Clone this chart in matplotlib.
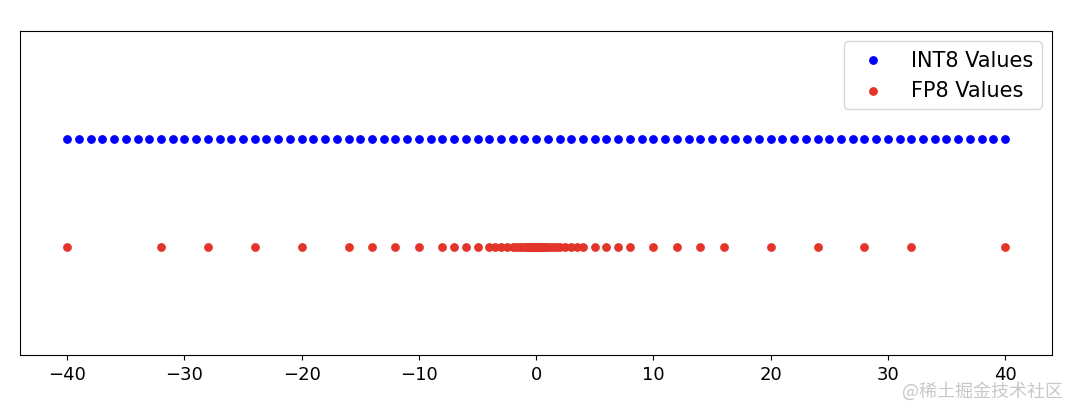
import matplotlib
matplotlib.use("Agg")
import matplotlib.pyplot as plt

# INT8 grid: every integer between -40 and 40
int8_values = [
    -40, -39, -38, -37, -36, -35, -34, -33, -32, -31, -30, -29, -28, -27,
    -26, -25, -24, -23, -22, -21, -20, -19, -18, -17, -16, -15, -14, -13,
    -12, -11, -10, -9, -8, -7, -6, -5, -4, -3, -2, -1, 0, 1, 2, 3, 4, 5,
    6, 7, 8, 9, 10, 11, 12, 13, 14, 15, 16, 17, 18, 19, 20, 21, 22, 23,
    24, 25, 26, 27, 28, 29, 30, 31, 32, 33, 34, 35, 36, 37, 38, 39, 40,
]

# FP8 grid (positive half), dense near zero
fp8_positive = [
    0.0, 0.0625, 0.078125, 0.09375, 0.109375, 0.125, 0.15625, 0.1875, 0.21875,
    0.25, 0.3125, 0.375, 0.4375, 0.5, 0.625, 0.75, 0.875,
    1.0, 1.25, 1.5, 1.75, 2.0, 2.5, 3.0, 3.5, 4.0, 5.0, 6.0, 7.0,
    8.0, 10.0, 12.0, 14.0, 16.0, 20.0, 24.0, 28.0, 32.0, 40.0,
]
fp8_values = sorted([-v for v in fp8_positive if v > 0]) + fp8_positive

fig, ax = plt.subplots(figsize=(10.68, 4.06), dpi=100)
fig.subplots_adjust(left=0.019, right=0.985, top=0.921, bottom=0.123)

ax.scatter(int8_values, [1] * len(int8_values), color="blue", s=28,
           label="INT8 Values", zorder=3)
ax.scatter(fp8_values, [0] * len(fp8_values), color="#e3342a", s=28,
           label="FP8 Values", zorder=3)

ax.set_ylim(-1, 2)
ax.set_xlim(-44, 44)
ax.set_yticks([])
ax.tick_params(axis="x", labelsize=13)
ax.legend(loc="upper right", fontsize=15)

# site watermark
fig.text(0.995, 0.012, "@稀土掘金技术社区", ha="right", va="bottom",
         fontsize=13, color="#c8c8c8", family=["Noto Sans CJK SC", "DejaVu Sans"])

fig.savefig("out.png", dpi=100)
